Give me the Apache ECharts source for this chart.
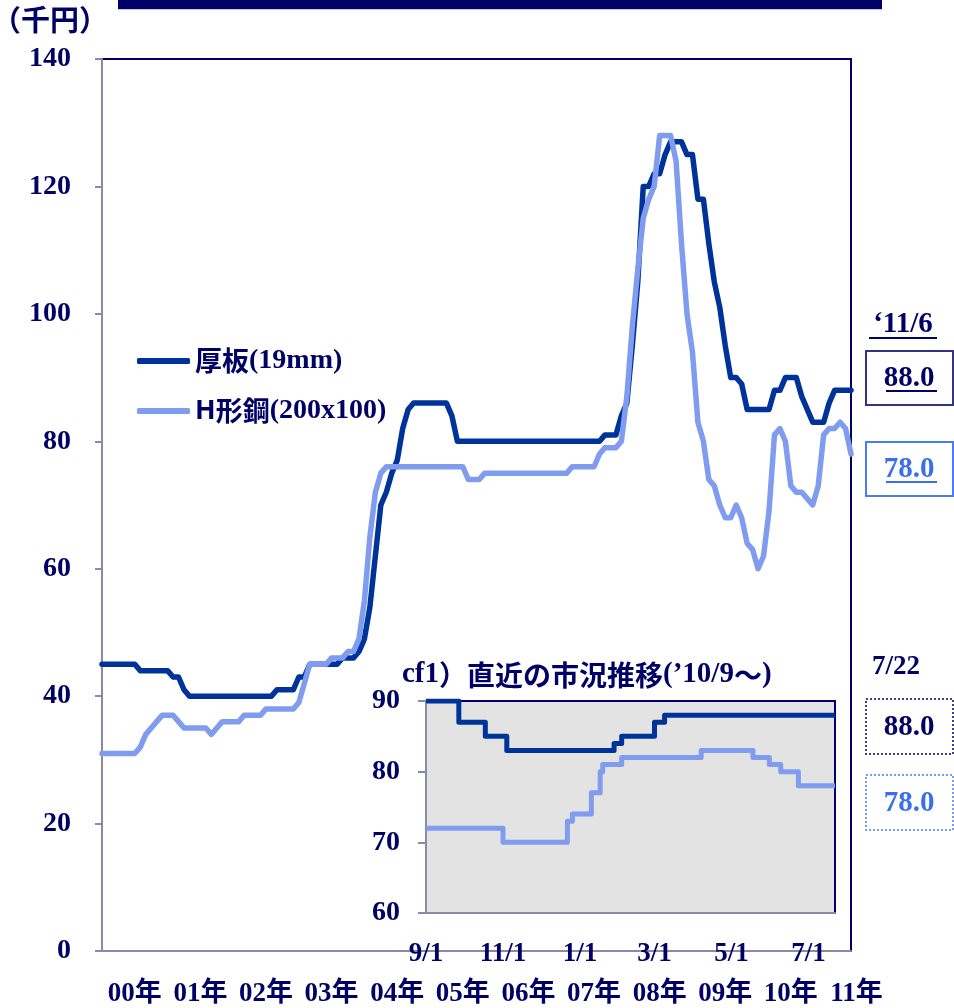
<!DOCTYPE html>
<html>
<head>
<meta charset="utf-8">
<script src="https://cdn.jsdelivr.net/npm/echarts@6/dist/echarts.min.js"></script>
<style>
  html, body { margin: 0; padding: 0; background: #ffffff; }
  #chart { width: 954px; height: 1008px; }
</style>
</head>
<body>
<div id="chart"></div>
<script>
// ---- data -------------------------------------------------------------
// Year tick labels for the long-run chart (monthly data, Jan 2000 - Jun 2011)
const yearLabels = ['00年', '01年', '02年', '03年', '04年', '05年', '06年', '07年', '08年', '09年', '10年', '11年'];
const firstYear = 2000;

// 厚板(19mm), thousand yen / t, monthly
const plateMonthly = [
  45, 45, 45, 45, 45, 45, 45, 44, 44, 44, 44, 44,        // 2000
  44, 43, 43, 41, 40, 40, 40, 40, 40, 40, 40, 40,        // 2001
  40, 40, 40, 40, 40, 40, 40, 40, 41, 41, 41, 41,        // 2002
  43, 43, 45, 45, 45, 45, 45, 45, 46, 46, 46, 47,        // 2003
  49, 54, 62, 70, 72, 75, 77, 82, 85, 86, 86, 86,        // 2004
  86, 86, 86, 86, 84, 80, 80, 80, 80, 80, 80, 80,        // 2005
  80, 80, 80, 80, 80, 80, 80, 80, 80, 80, 80, 80,        // 2006
  80, 80, 80, 80, 80, 80, 80, 80, 81, 81, 81, 84,        // 2007
  86, 95, 105, 120, 120, 122, 122, 125, 127, 127, 127, 125, // 2008
  125, 118, 118, 111, 105, 101, 95, 90, 90, 89, 85, 85,  // 2009
  85, 85, 85, 88, 88, 90, 90, 90, 87, 85, 83, 83,        // 2010
  83, 86, 88, 88, 88, 88                                 // 2011 (to Jun)
];

// H形鋼(200x100), thousand yen / t, monthly
const hbeamMonthly = [
  31, 31, 31, 31, 31, 31, 31, 32, 34, 35, 36, 37,        // 2000
  37, 37, 36, 35, 35, 35, 35, 35, 34, 35, 36, 36,        // 2001
  36, 36, 37, 37, 37, 37, 38, 38, 38, 38, 38, 38,        // 2002
  39, 42, 45, 45, 45, 45, 46, 46, 46, 47, 47, 49,        // 2003
  55, 65, 72, 75, 76, 76, 76, 76, 76, 76, 76, 76,        // 2004
  76, 76, 76, 76, 76, 76, 76, 74, 74, 74, 75, 75,        // 2005
  75, 75, 75, 75, 75, 75, 75, 75, 75, 75, 75, 75,        // 2006
  75, 75, 76, 76, 76, 76, 76, 78, 79, 79, 79, 80,        // 2007
  87, 98, 107, 115, 118, 120, 128, 128, 128, 124, 111, 100, // 2008
  94, 83, 80, 74, 73, 70, 68, 68, 70, 68, 64, 63,        // 2009
  60, 62, 69, 81, 82, 80, 73, 72, 72, 71, 70, 73,        // 2010
  81, 82, 82, 83, 82, 78                                 // 2011 (to Jun)
];

// Recent market (Sep 2010 - Jul 22 2011): dates where the quote changed
const recentPlateDates  = ['2010-09-01', '2010-09-27', '2010-10-18', '2010-11-04', '2011-01-28', '2011-02-03', '2011-03-01', '2011-03-09', '2011-07-22'];
const recentPlateValues = [90, 87, 85, 83, 84, 85, 87, 88, 88];
const recentHbeamDates  = ['2010-09-01', '2010-11-01', '2010-12-22', '2010-12-26', '2011-01-10', '2011-01-17', '2011-01-19', '2011-02-03', '2011-04-07', '2011-05-18', '2011-05-31', '2011-06-09', '2011-06-23', '2011-07-22'];
const recentHbeamValues = [72, 70, 73, 74, 77, 80, 81, 82, 83, 82, 81, 80, 78, 78];
const recentTickDates   = ['2010-09-01', '2010-11-01', '2011-01-01', '2011-03-01', '2011-05-01', '2011-07-01'];
const recentTickLabels  = ['9/1', '11/1', '1/1', '3/1', '5/1', '7/1'];
const recentStart = '2010-09-01';
const recentEnd   = '2011-07-22';

// ---- helpers ----------------------------------------------------------
const DAY = 86400000;
function toTime(s) {
  const p = s.split('-').map(Number);
  return Date.UTC(p[0], p[1] - 1, p[2]);
}
// days elapsed since the start of the recent window
function dayOf(s) { return Math.round((toTime(s) - toTime(recentStart)) / DAY); }

const months = plateMonthly.map(function (_, i) {
  const y = firstYear + Math.floor(i / 12);
  const m = (i % 12) + 1;
  return y + '-' + (m < 10 ? '0' + m : m);
});
function pairs(dates, values) {
  return dates.map(function (d, i) { return [dayOf(d), values[i]]; });
}
const recentTickDays = recentTickDates.map(dayOf);

// main plot geometry; the year band axis spans whole years of the same month spacing
const MAIN_LEFT = 102, MAIN_TOP = 59, MAIN_W = 749, MAIN_H = 892;
const monthStep = MAIN_W / (months.length - 1);
const yearBandWidth = monthStep * 12 * yearLabels.length;

const NAVY = '#000066';
const GRAY = '#8a8aa8';
const DARK = '#003399';
const LIGHT = '#809cee';
const BLUE_TXT = '#3a6ef0';
const BLUE_BOX = '#4a7cf5';
const SERIF = "'Liberation Serif', 'Noto Sans CJK JP', serif";
const CJK = "'Noto Sans CJK JP', sans-serif";

const labelBase = { color: NAVY, fontFamily: SERIF, fontWeight: 'bold' };

const lastPlate = plateMonthly[plateMonthly.length - 1];
const lastHbeam = hbeamMonthly[hbeamMonthly.length - 1];
const lastRecentPlate = recentPlateValues[recentPlateValues.length - 1];
const lastRecentHbeam = recentHbeamValues[recentHbeamValues.length - 1];

function valueBox(x, y, w, h, color, dashed, text, textColor, underline) {
  const els = [
    {
      type: 'rect',
      shape: { x: x, y: y, width: w, height: h },
      style: { fill: '#ffffff', stroke: color, lineWidth: dashed ? 1.5 : 2, lineDash: dashed ? [2, 2] : null },
      z: 10
    },
    {
      type: 'text',
      style: {
        text: text, x: x + w / 2 - 0.5, y: y + h / 2 + 1,
        textAlign: 'center', textVerticalAlign: 'middle',
        fill: textColor, font: 'bold 29px ' + SERIF
      },
      z: 11
    }
  ];
  if (underline) {
    els.push({
      type: 'line',
      shape: { x1: x + 20, y1: y + h / 2 + 13, x2: x + 71, y2: y + h / 2 + 13 },
      style: { stroke: textColor, lineWidth: 2 },
      z: 11
    });
  }
  return els;
}

const chart = echarts.init(document.getElementById('chart'), null, { renderer: 'canvas' });

const option = {
  animation: false,
  backgroundColor: '#ffffff',
  grid: [
    { left: MAIN_LEFT, top: MAIN_TOP, width: MAIN_W, height: MAIN_H, show: true, borderColor: NAVY, borderWidth: 2, backgroundColor: 'transparent' },
    { left: 426, top: 701, width: 409, height: 212, show: true, borderColor: NAVY, borderWidth: 2, backgroundColor: '#e3e3e3', z: 5 },
    { left: MAIN_LEFT, top: MAIN_TOP, width: yearBandWidth, height: MAIN_H, show: false }
  ],
  xAxis: [
    {
      type: 'category', gridIndex: 0, data: months, boundaryGap: false,
      axisLine: { lineStyle: { color: GRAY, width: 2 } },
      axisTick: { show: false },
      splitLine: { show: false },
      axisLabel: { show: false }
    },
    {
      type: 'value', gridIndex: 1, min: 0, max: dayOf(recentEnd),
      axisLine: { lineStyle: { color: GRAY, width: 2 } },
      axisTick: { show: false },
      splitLine: { show: false },
      axisLabel: Object.assign({}, labelBase, {
        fontSize: 27, margin: 28,
        customValues: recentTickDays,
        formatter: function (v) {
          const k = recentTickDays.indexOf(Math.round(v));
          return k >= 0 ? recentTickLabels[k] : '';
        }
      }),
      z: 6
    },
    {
      type: 'category', gridIndex: 2, data: yearLabels, boundaryGap: true,
      axisLine: { show: false },
      axisTick: { show: false },
      splitLine: { show: false },
      axisLabel: Object.assign({}, labelBase, { fontSize: 27, margin: 39, interval: 0 })
    }
  ],
  yAxis: [
    {
      type: 'value', gridIndex: 0, min: 0, max: 140, interval: 20,
      axisLine: { show: true, lineStyle: { color: GRAY, width: 2 } },
      axisTick: { show: true, length: 7, lineStyle: { color: GRAY, width: 2 } },
      splitLine: { show: false },
      axisLabel: Object.assign({}, labelBase, { fontSize: 28, margin: 31 })
    },
    {
      type: 'value', gridIndex: 1, min: 60, max: 90, interval: 10,
      axisLine: { show: true, lineStyle: { color: GRAY, width: 2 } },
      axisTick: { show: true, length: 8, lineStyle: { color: GRAY, width: 2 } },
      splitLine: { show: false },
      axisLabel: Object.assign({}, labelBase, { fontSize: 28, margin: 26 }),
      z: 6
    },
    { type: 'value', gridIndex: 2, show: false }
  ],
  legend: {
    data: ['厚板(19mm)', 'H形鋼(200x100)'],
    orient: 'vertical', left: 137, top: 347, padding: 0,
    itemWidth: 53, itemHeight: 6, itemGap: 22,
    icon: 'roundRect',
    formatter: function (name) {
      return name === '厚板(19mm)'
        ? '{c|厚板}{a|(19mm)}'
        : '{h|H}{c|形鋼}{a|(200x100)}';
    },
    textStyle: {
      color: NAVY,
      rich: {
        a: { fontFamily: SERIF, fontWeight: 'bold', fontSize: 28, color: NAVY, lineHeight: 30 },
        c: { fontFamily: CJK, fontWeight: 'bold', fontSize: 27, color: NAVY, lineHeight: 30 },
        h: { fontFamily: "'Noto Sans', sans-serif", fontWeight: 'bold', fontSize: 27, color: NAVY, lineHeight: 30 }
      }
    }
  },
  series: [
    {
      name: '厚板(19mm)', type: 'line', xAxisIndex: 0, yAxisIndex: 0,
      data: plateMonthly, symbol: 'none',
      lineStyle: { color: DARK, width: 5.5, cap: 'round', join: 'round' },
      itemStyle: { color: DARK }, z: 2
    },
    {
      name: 'H形鋼(200x100)', type: 'line', xAxisIndex: 0, yAxisIndex: 0,
      data: hbeamMonthly, symbol: 'none',
      lineStyle: { color: LIGHT, width: 5.5, cap: 'round', join: 'round' },
      itemStyle: { color: LIGHT }, z: 3
    },
    {
      name: '厚板 直近', type: 'line', xAxisIndex: 1, yAxisIndex: 1,
      data: pairs(recentPlateDates, recentPlateValues), step: 'end', symbol: 'none',
      lineStyle: { color: DARK, width: 5, join: 'round' },
      itemStyle: { color: DARK }, z: 7
    },
    {
      name: 'H形鋼 直近', type: 'line', xAxisIndex: 1, yAxisIndex: 1,
      data: pairs(recentHbeamDates, recentHbeamValues), step: 'end', symbol: 'none',
      lineStyle: { color: LIGHT, width: 5, join: 'round' },
      itemStyle: { color: LIGHT }, z: 7
    }
  ],
  graphic: [
    // header band
    { type: 'rect', shape: { x: 118, y: -3, width: 764, height: 12 }, style: { fill: NAVY }, z: 10 },
    { type: 'line', shape: { x1: 118, y1: 9.5, x2: 882, y2: 9.5 }, style: { stroke: '#c4c8ec', lineWidth: 1 }, z: 10 },
    // unit
    {
      type: 'text', z: 10,
      style: { text: '（千円）', x: -8, y: 20, textVerticalAlign: 'middle', fill: NAVY, font: 'bold 29px ' + CJK }
    },
    // inset title
    {
      type: 'text', z: 10,
      style: {
        text: '{a|cf1}{b|）直近の市況推移}{a|(’10/9}{b|〜}{a|)}',
        x: 402, y: 675, textVerticalAlign: 'middle',
        rich: {
          a: { fontFamily: SERIF, fontWeight: 'bold', fontSize: 29, fill: NAVY, color: NAVY },
          b: { fontFamily: CJK, fontWeight: 'bold', fontSize: 28, fill: NAVY, color: NAVY }
        }
      }
    },
    // latest month values
    {
      type: 'text', z: 10,
      style: { text: '‘11/6', x: 903, y: 325, textAlign: 'center', textVerticalAlign: 'middle', fill: NAVY, font: 'bold 29px ' + SERIF }
    },
    { type: 'line', shape: { x1: 869, y1: 338, x2: 937, y2: 338 }, style: { stroke: NAVY, lineWidth: 2 }, z: 10 }
  ]
    .concat(valueBox(866, 351, 87, 54, '#33337f', false, lastPlate.toFixed(1), NAVY, true))
    .concat(valueBox(866, 442, 87, 54, BLUE_BOX, false, lastHbeam.toFixed(1), BLUE_TXT, true))
    .concat([{
      type: 'text', z: 10,
      style: { text: '7/22', x: 896, y: 667, textAlign: 'center', textVerticalAlign: 'middle', fill: NAVY, font: 'bold 27px ' + SERIF }
    }])
    .concat(valueBox(866, 699, 87, 55, NAVY, true, lastRecentPlate.toFixed(1), NAVY, false))
    .concat(valueBox(866, 775, 87, 55, BLUE_BOX, true, lastRecentHbeam.toFixed(1), BLUE_TXT, false))
};

chart.setOption(option);
</script>
</body>
</html>
